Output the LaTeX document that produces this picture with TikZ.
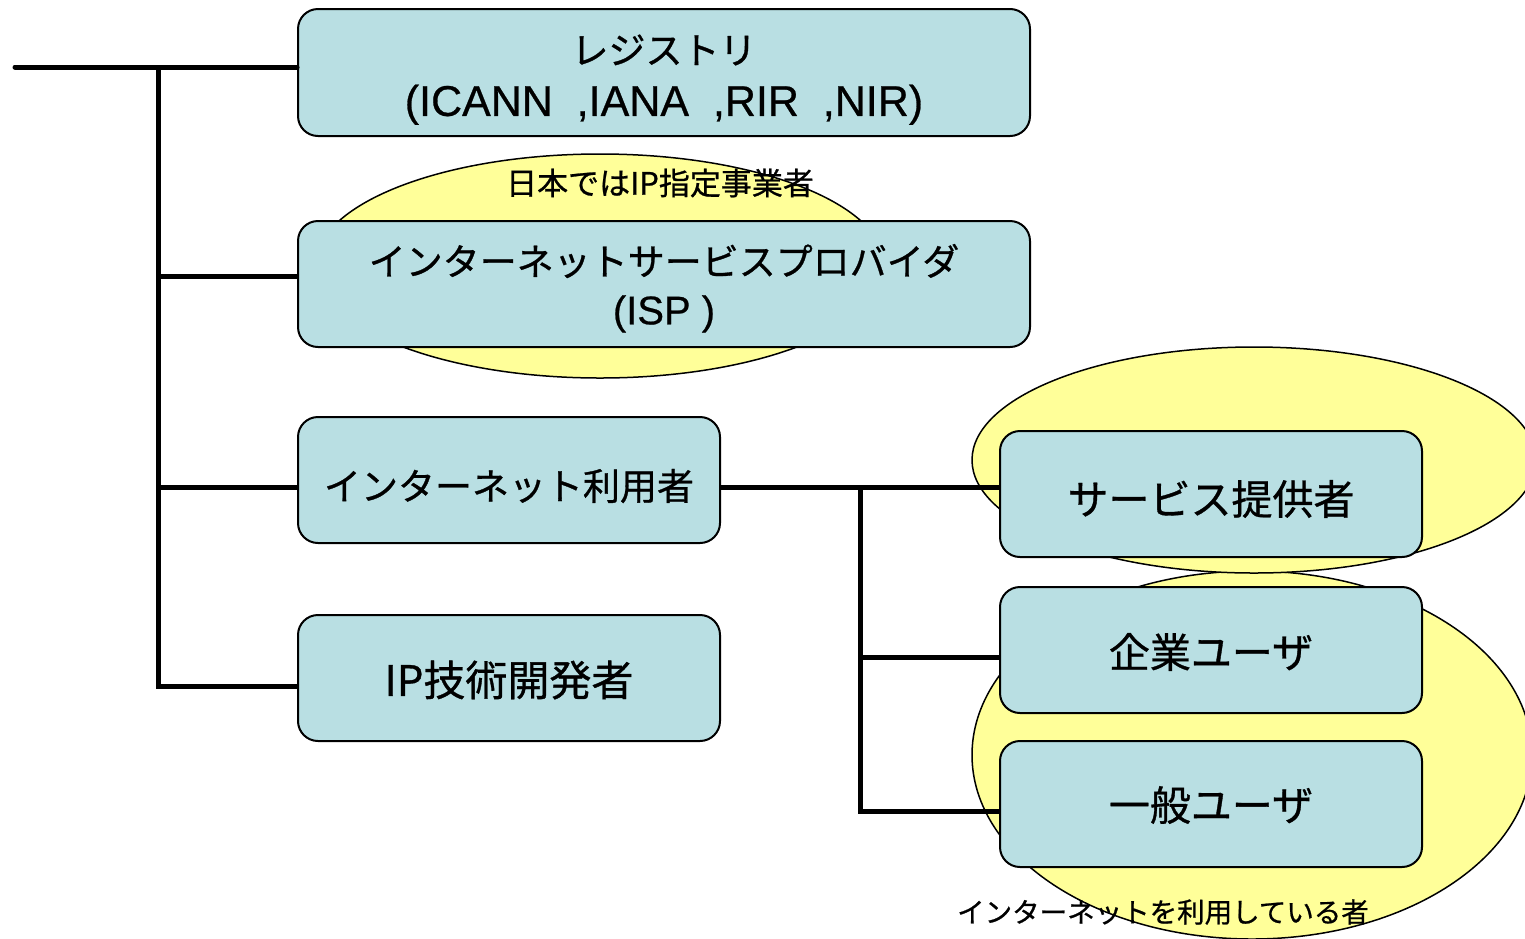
\documentclass[tikz,border=0pt]{standalone}
\usepackage{fontspec}
\setmainfont[FakeBold=0.6]{Liberation Sans}
\newfontfamily\jp[FakeBold=0.8]{Noto Sans CJK JP}
\definecolor{boxblue}{HTML}{B9DFE3}
\definecolor{cloud}{HTML}{FFFF99}
\newcommand\lowerby[2]{\raisebox{-#1}[\height][\depth]{#2}}
\tikzset{
  box/.style={draw, line width=2pt, rounded corners=20pt, fill=boxblue, inner sep=0pt, align=center},
  smallbox/.style={box, minimum width=422pt, minimum height=126pt},
  widebox/.style={box, minimum width=732pt, minimum height=127pt},
  wire/.style={line width=5pt},
  blob/.style={draw, line width=1.5pt, fill=cloud},
  lbl/.style={inner sep=0pt}
}
\begin{document}
\begin{tikzpicture}[x=1pt,y=-1pt]
\useasboundingbox (0,0) rectangle (1525,938);
\clip (0,0) rectangle (1525,938);
% background ellipses
\draw[blob] (600,266) ellipse [x radius=285, y radius=112];
\draw[blob] (1252,755) ellipse [x radius=280, y radius=184];
\draw[blob] (1254,460) ellipse [x radius=282, y radius=113];
\node[lbl, font=\jp\fontsize{31}{31}\selectfont] (jplabel) at (660,183) {日本ではIP指定事業者};
\node[lbl, font=\jp\fontsize{27.5}{27.5}\selectfont] (uselabel) at (1163,912) {インターネットを利用している者};
% boxes
\node[widebox, font=\fontsize{43}{52}\selectfont] (reg) at (664,72.5)
  {\lowerby{7pt}{\begin{tabular}{@{}c@{}}{\jp\fontsize{37}{52}\selectfont レジストリ}\\(ICANN\ \ ,IANA\ \ ,RIR\ \ ,NIR)\end{tabular}}};
\node[widebox, minimum height=126pt, font=\fontsize{40}{49}\selectfont] (isp) at (664,284)
  {\lowerby{6pt}{\begin{tabular}{@{}c@{}}{\jp\fontsize{37}{49}\selectfont インターネットサービスプロバイダ}\\(ISP )\end{tabular}}};
\node[smallbox, font=\jp\fontsize{37}{37}\selectfont] (user) at (509,480) {\lowerby{6pt}{インターネット利用者}};
\node[smallbox, font=\jp\fontsize{42}{42}\selectfont] (ipdev) at (509,678) {\lowerby{2pt}{IP技術開発者}};
\node[smallbox, font=\jp\fontsize{41}{41}\selectfont] (svc) at (1211,494) {\lowerby{5pt}{サービス提供者}};
\node[smallbox, font=\jp\fontsize{41}{41}\selectfont] (corp) at (1211,650) {\lowerby{2pt}{企業ユーザ}};
\node[smallbox, font=\jp\fontsize{41}{41}\selectfont] (gen) at (1211,804) {\lowerby{1pt}{一般ユーザ}};
% junction points
\coordinate (start) at (15,67);
\coordinate (j0) at (158,67);
\coordinate (j1) at (158,276);
\coordinate (j2) at (158,487);
\coordinate (j3) at (158,686);
\coordinate (k0) at (860,487);
\coordinate (k1) at (860,657);
\coordinate (k2) at (860,811);
% connectors
\draw[wire, line cap=round] (start) -- (reg.west |- start);
\draw[wire] (j0) -- (j3) -- (ipdev.west |- j3);
\draw[wire] (j1) -- (isp.west |- j1);
\draw[wire] (j2) -- (user.west |- j2);
\draw[wire] (user.east |- k0) -- (svc.west |- k0);
\draw[wire] (k0) -- (k2) -- (gen.west |- k2);
\draw[wire] (k1) -- (corp.west |- k1);
\end{tikzpicture}
\end{document}
